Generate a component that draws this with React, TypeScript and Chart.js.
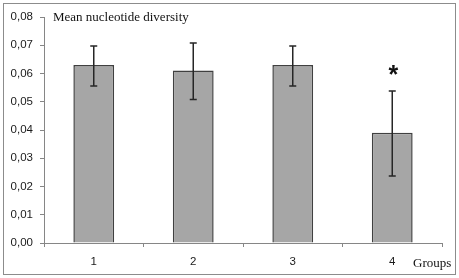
import React, { useEffect, useRef } from "react";
import { Chart, registerables } from "chart.js";

Chart.register(...registerables);

const categories = ["1", "2", "3", "4"];
const means = [0.063, 0.0611, 0.063, 0.039];
const errUpper = [0.0697, 0.0708, 0.0697, 0.0538];
const errLower = [0.0556, 0.0508, 0.0556, 0.0237];
const significant = [false, false, false, true];
const yTicks = [0, 0.01, 0.02, 0.03, 0.04, 0.05, 0.06, 0.07, 0.08];
const titleText = "Mean nucleotide diversity";
const xAxisText = "Groups";

const extrasPlugin = {
  id: "extras",
  afterDatasetsDraw(chart: any) {
    const ctx = chart.ctx;
    const y = chart.scales.y;
    const meta = chart.getDatasetMeta(0);
    ctx.save();
    ctx.strokeStyle = "#262626";
    ctx.lineWidth = 1.5;
    meta.data.forEach((bar: any, i: number) => {
      const x = bar.x;
      const yt = y.getPixelForValue(errUpper[i]);
      const yb = y.getPixelForValue(errLower[i]);
      ctx.beginPath();
      ctx.moveTo(x, yt);
      ctx.lineTo(x, yb);
      ctx.moveTo(x - 3.5, yt);
      ctx.lineTo(x + 3.5, yt);
      ctx.moveTo(x - 3.5, yb);
      ctx.lineTo(x + 3.5, yb);
      ctx.stroke();
      if (significant[i]) {
        ctx.fillStyle = "#111";
        ctx.font = "bold 25px 'Liberation Sans'";
        ctx.textAlign = "center";
        ctx.textBaseline = "alphabetic";
        ctx.fillText("*", x + 1, y.getPixelForValue(errUpper[i]) - 8);
      }
    });
    ctx.restore();
  },
  afterDraw(chart: any) {
    const ctx = chart.ctx;
    ctx.save();
    ctx.fillStyle = "#111";
    ctx.font = "13px 'Liberation Serif'";
    ctx.textAlign = "left";
    ctx.textBaseline = "alphabetic";
    ctx.fillText(titleText, 53, 20.5);
    ctx.fillText(xAxisText, 413, 266.5);
    ctx.strokeStyle = "#8c8c8c";
    ctx.lineWidth = 1;
    ctx.strokeRect(3.5, 3.5, 452, 271);
    ctx.restore();
  },
};

export default function App() {
  const ref = useRef<HTMLCanvasElement | null>(null);
  useEffect(() => {
    document.body.style.margin = "0";
    const canvas = ref.current!;
    const chart = new Chart(canvas, {
      type: "bar",
      data: {
        labels: categories,
        datasets: [
          {
            data: means,
            backgroundColor: "#a6a6a6",
            borderColor: "#404040",
            borderWidth: 1.5,
            barPercentage: 0.41,
            categoryPercentage: 1,
          },
        ],
      },
      options: {
        responsive: false,
        animation: false,
        devicePixelRatio: 1,
        layout: { padding: { top: 17, right: 17, left: 0, bottom: 0 } },
        plugins: { legend: { display: false }, tooltip: { enabled: false }, title: { display: false } },
        scales: {
          x: {
            offset: true,
            grid: { offset: true, drawOnChartArea: false, drawTicks: true, tickLength: 4, color: "#868686" },
            border: { display: true, color: "#868686" },
            ticks: { color: "#1a1a1a", font: { family: "'Liberation Sans'", size: 11.5 }, padding: 8, maxRotation: 0 },
            afterFit: (s: any) => {
              s.height = 35;
            },
          },
          y: {
            min: 0,
            max: 0.08,
            afterBuildTicks: (s: any) => {
              s.ticks = yTicks.map((v) => ({ value: v }));
            },
            grid: { drawOnChartArea: false, drawTicks: true, tickLength: 4, color: "#868686" },
            border: { display: true, color: "#868686" },
            ticks: {
              color: "#1a1a1a",
              font: { family: "'Liberation Sans'", size: 11.5 },
              padding: 7,
              callback: (v: any) => Number(v).toFixed(2).replace(".", ","),
            },
            afterFit: (s: any) => {
              s.width = 44;
            },
          },
        },
      },
      plugins: [extrasPlugin],
    });
    return () => chart.destroy();
  }, []);
  return (
    <div style={{ position: "absolute", left: 0, top: 0, background: "#fff" }}>
      <canvas ref={ref} width={459} height={278} />
    </div>
  );
}
